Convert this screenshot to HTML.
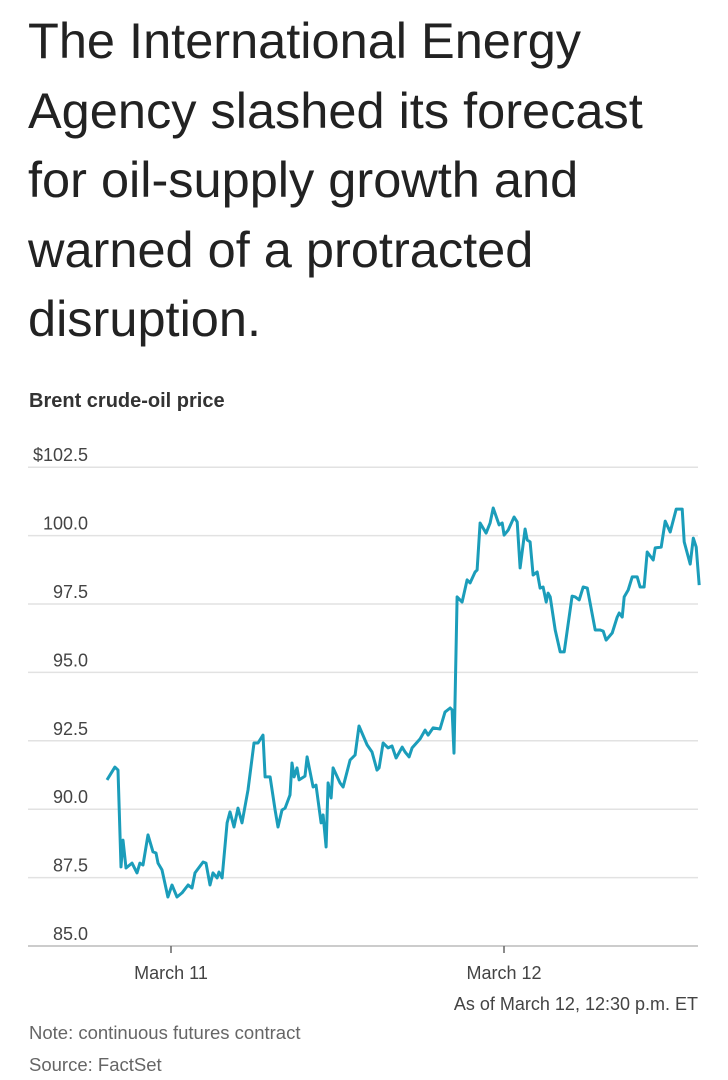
<!DOCTYPE html>
<html><head><meta charset="utf-8"><style>
body{margin:0;width:728px;height:1080px;background:#fff;font-family:"Liberation Sans",sans-serif;overflow:hidden;position:relative}
#title{position:absolute;left:28px;top:6px;font-size:50.5px;line-height:69.5px;color:#222;margin:0;font-weight:normal;white-space:nowrap}
#sub{position:absolute;left:29px;top:390px;font-size:20px;font-weight:bold;color:#333}
svg{position:absolute;left:0;top:0}
.n{position:absolute;left:29px;font-size:18.5px;color:#666}
</style></head><body>
<h1 id="title">The International Energy<br>Agency slashed its forecast<br>for oil-supply growth and<br>warned of a protracted<br>disruption.</h1>
<div id="sub">Brent crude-oil price</div>
<svg id="chart" width="728" height="1080"></svg>
<div class="n" style="top:1022px">Note: continuous futures contract</div>
<div class="n" style="top:1054px">Source: FactSet</div>
<script>
const hours=[-4.61,-4.04,-3.82,-3.60,-3.46,-3.24,-2.81,-2.45,-2.24,-2.02,-1.66,-1.30,-1.08,-0.94,-0.65,-0.22,0.07,0.43,0.79,1.23,1.51,1.73,2.31,2.52,2.81,3.03,3.32,3.46,3.68,4.04,4.25,4.54,4.83,5.12,5.55,5.98,6.27,6.63,6.78,7.14,7.50,7.71,8.00,8.22,8.58,8.72,8.87,9.08,9.23,9.66,9.81,10.24,10.45,10.82,10.96,11.18,11.32,11.54,11.68,12.18,12.40,12.91,13.27,13.55,14.13,14.49,14.85,15.00,15.29,15.65,15.93,16.22,16.66,16.87,17.16,17.38,17.95,18.31,18.53,18.89,19.39,19.75,20.12,20.26,20.40,20.62,20.98,21.34,21.56,21.92,22.06,22.28,22.71,23.00,23.22,23.65,23.87,24.01,24.30,24.73,24.95,25.16,25.52,25.67,25.88,26.10,26.39,26.60,26.82,27.04,27.18,27.33,27.69,28.05,28.34,28.91,29.13,29.42,29.71,30.00,30.57,30.93,31.15,31.36,31.80,32.16,32.30,32.52,32.66,32.95,33.24,33.60,33.81,34.10,34.32,34.75,34.90,35.33,35.62,35.98,36.41,36.84,36.99,37.42,37.64,37.85,38.07];
const prices=[91.07,91.54,91.43,87.89,88.87,87.85,88.03,87.67,88.03,87.96,89.06,88.44,88.40,88.03,87.78,86.79,87.23,86.79,86.94,87.23,87.12,87.67,88.07,88.03,87.23,87.67,87.49,87.70,87.49,89.50,89.90,89.35,90.04,89.50,90.70,92.42,92.42,92.71,91.18,91.18,89.97,89.35,89.97,90.04,90.52,91.69,91.18,91.51,91.07,91.21,91.91,90.81,90.88,89.50,89.79,88.62,90.96,90.41,91.51,90.96,90.81,91.80,91.98,93.04,92.35,92.09,91.43,91.51,92.42,92.24,92.31,91.87,92.27,92.09,91.91,92.24,92.57,92.89,92.71,92.97,92.93,93.55,93.70,93.63,92.05,97.76,97.57,98.38,98.27,98.67,98.74,100.46,100.09,100.46,101.01,100.39,100.46,100.02,100.20,100.68,100.50,98.82,100.24,99.84,99.77,98.56,98.67,98.08,98.12,97.57,97.90,97.76,96.55,95.75,95.75,97.79,97.76,97.65,98.12,98.08,96.55,96.55,96.51,96.18,96.44,97.02,97.17,97.02,97.76,98.01,98.49,98.49,98.12,98.12,99.40,99.11,99.55,99.58,100.53,100.13,100.97,100.97,99.77,98.96,99.91,99.58,98.19];
const yTicks=[85,87.5,90,92.5,95,97.5,100,102.5];
const yLabels=["85.0","87.5","90.0","92.5","95.0","97.5","100.0","$102.5"];
const xTicks=[0,24];
const xLabels=["March 11","March 12"];
const NS="http://www.w3.org/2000/svg";
const svg=document.getElementById('chart');
const X=h=>171+h*(333/24);
const Y=v=>946-(v-85)*27.36;
function mk(t,a){const e=document.createElementNS(NS,t);for(const k in a)e.setAttribute(k,a[k]);svg.appendChild(e);return e;}
yTicks.forEach((v,i)=>{
  const l=mk('line',{x1:28,x2:698,y1:Y(v),y2:Y(v),stroke:i===0?'#bbb':'#e2e2e2','stroke-width':1.5});
  
  
  const t=mk('text',{x:88,y:Y(v)-6,'text-anchor':'end','font-size':18,fill:'#444','font-family':'Liberation Sans, sans-serif'});
  t.textContent=yLabels[i];
  
  
});
xTicks.forEach((h,i)=>{
  const l=mk('line',{x1:X(h),x2:X(h),y1:946,y2:953,stroke:'#666','stroke-width':1.5});
  
  
  const t=mk('text',{x:X(h),y:979,'text-anchor':'middle','font-size':18,fill:'#444','font-family':'Liberation Sans, sans-serif'});
  t.textContent=xLabels[i];
  
  
});
const asof=mk('text',{x:698,y:1010,'text-anchor':'end','font-size':18,fill:'#444','font-family':'Liberation Sans, sans-serif'});
asof.textContent="As of March 12, 12:30 p.m. ET";


const d=hours.map((h,i)=>(i?'L':'M')+X(h).toFixed(1)+','+Y(prices[i]).toFixed(1)).join('');
const p=mk('path',{d:d,fill:'none',stroke:'#1b9dba','stroke-width':3,'stroke-linejoin':'round'});


</script>
</body></html>
